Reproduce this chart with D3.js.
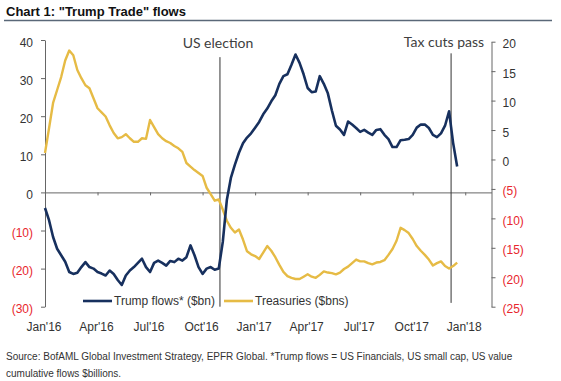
<!DOCTYPE html>
<html>
<head>
<meta charset="utf-8">
<script src="https://cdn.jsdelivr.net/npm/d3@7"></script>
<style>
body { margin: 0; background: #fff; }
svg { display: block; }
.narrow { font-family: "Liberation Sans Narrow", "Arial Narrow", "Liberation Sans", sans-serif; }
</style>
</head>
<body>
<div id="chart"></div>
<script>
// weekly readings, week 0 = first week of Jan 2016
var trumpFlows = [-4.1, -7.3, -11.7, -14.8, -16.5, -18.2, -20.9, -21.4, -21.1, -19.6,
  -18.3, -19.6, -20, -20.9, -21.3, -21.8, -20.5, -21.4, -23, -24.3,
  -21.8, -20.5, -19.6, -18.5, -17.4, -19.6, -20.9, -18.5, -17.9, -18.5,
  -19.2, -18, -18.3, -17.4, -17.9, -17, -13.9, -16.5, -19.6, -21.4,
  -20, -19.6, -20.3, -20, -13, -2, 3.8, 7.3, 10.4, 12.9,
  14.4, 15.5, 17, 18.5, 20.5, 22, 23.9, 25.5, 28.5, 30.5,
  31, 33.5, 36.2, 34, 31, 27.4, 26.3, 26.5, 30.5, 28.5,
  26, 21.5, 17.5, 16.5, 15.1, 18.6, 17.8, 16.9, 15.9, 16.4,
  15.7, 15.1, 16.4, 16.6, 15.1, 14, 11.9, 11.9, 13.7, 13.8,
  14, 15.1, 17, 17.8, 17.8, 16.9, 15.1, 14.5, 15.5, 17.5,
  21.3, 13, 6.8];
var treasuries = [1.1, 5.3, 9.6, 11.8, 14, 16.8, 18.5, 17.7, 15.2, 13.8,
  12.6, 12.1, 10.4, 8.7, 8, 7.3, 5.8, 4.5, 3.6, 3.8,
  4.3, 3.6, 3, 3, 3.6, 3.5, 6.7, 5.5, 4.3, 3.6,
  3.1, 2.8, 2.3, 1.9, 1.3, -0.6, -1.2, -1.8, -2.3, -2.8,
  -4.8, -5.9, -7, -6.8, -8.5, -10.4, -11.6, -12.4, -11.9, -13.6,
  -15.6, -16.1, -16.4, -16.9, -15.8, -14.7, -15.5, -16.6, -17.9, -19.1,
  -19.8, -20.1, -20.3, -20.3, -19.9, -19.5, -19.9, -20.1, -19.6, -19,
  -19.2, -19.3, -19.5, -19.2, -18.6, -18.2, -17.6, -17, -17.3, -17.3,
  -17.6, -17.8, -17.5, -17.4, -17.1, -16.2, -15.2, -13.8, -11.6, -12,
  -12.5, -13.5, -14.7, -15.5, -16.2, -17, -18, -17.6, -17.3, -18.1,
  -18.5, -18.1, -17.5];
var tickLabels = ["Jan'16", "Apr'16", "Jul'16", "Oct'16", "Jan'17", "Apr'17", "Jul'17", "Oct'17", "Jan'18"];
var tickWeeks = [0, 13, 26, 39, 52, 65, 78, 91, 104];
var leftTicks = [40, 30, 20, 10, 0, -10, -20, -30];
var rightTicks = [20, 15, 10, 5, 0, -5, -10, -15, -20, -25];
var eventLabels = ["US election", "Tax cuts pass"];
var eventWeeks = [43.3, 100.5];
var seriesNames = ["Trump flows* ($bn)", "Treasuries ($bns)"];

var blue = "#17305e", gold = "#e6bb45", red = "#e8262d", ink = "#333";

var svg = d3.select("#chart").append("svg")
  .attr("width", 561)
  .attr("height", 381);

var x = d3.scaleLinear().domain([0, 110.5]).range([45, 491.5]);
var yL = d3.scaleLinear().domain([-30, 40]).range([306.7, 40]);
var yR = d3.scaleLinear().domain([-25, 20]).range([306.7, 41.7]);

function fmt(d) { return d < 0 ? "(" + Math.abs(d) + ")" : d; }

// title
svg.append("text")
  .attr("class", "narrow")
  .attr("x", 6).attr("y", 16)
  .style("font-size", "13px").style("font-weight", "bold")
  .attr("fill", "#111")
  .text('Chart 1: "Trump Trade" flows');
svg.append("line")
  .attr("x1", 4).attr("x2", 552).attr("y1", 20.5).attr("y2", 20.5)
  .attr("stroke", "#5a6878").attr("stroke-width", 1.3);

// axes
var gl = svg.append("g")
  .attr("class", "narrow")
  .attr("transform", "translate(45,0)")
  .call(d3.axisLeft(yL).tickValues(leftTicks).tickFormat(fmt).tickSize(4).tickSizeOuter(0).tickPadding(8));
var gr = svg.append("g")
  .attr("class", "narrow")
  .attr("transform", "translate(491.5,0)")
  .call(d3.axisRight(yR).tickValues(rightTicks).tickFormat(fmt).tickSize(4).tickSizeOuter(0).tickPadding(7));
[gl, gr].forEach(function (g) {
  g.selectAll("path, line").attr("stroke", "#666");
  g.selectAll("text")
    .style("font-size", "12px")
    .attr("dy", "0.5em")
    .attr("fill", function (d) { return d < 0 ? red : ink; });
});

var gz = svg.append("g")
  .attr("transform", "translate(0," + yL(0) + ")")
  .call(d3.axisBottom(x).tickValues(tickWeeks).tickFormat("").tickSize(3).tickSizeOuter(0));
gz.selectAll("path, line").attr("stroke", "#666");

svg.append("g").selectAll("text")
  .data(tickLabels)
  .enter().append("text")
  .attr("class", "narrow")
  .attr("x", function (d, i) { return x(tickWeeks[i]) - 1; })
  .attr("y", 331)
  .attr("text-anchor", "middle")
  .style("font-size", "12px")
  .attr("fill", ink)
  .text(function (d) { return d; });

// event markers
var evTop = [35.5, 36.5], evBottom = [-30, -29];
eventWeeks.forEach(function (w, i) {
  svg.append("line")
    .attr("x1", x(w)).attr("x2", x(w))
    .attr("y1", yL(evTop[i])).attr("y2", yL(evBottom[i]))
    .attr("stroke", "#333").attr("stroke-width", 1);
});
svg.append("text")
  .attr("x", x(eventWeeks[0]) - 2).attr("y", 48)
  .attr("text-anchor", "middle")
  .style("font-family", "Lato, sans-serif").style("font-size", "14px")
  .attr("fill", "#404040")
  .text(eventLabels[0]);
svg.append("text")
  .attr("x", x(eventWeeks[1]) + 33).attr("y", 47)
  .attr("text-anchor", "end")
  .style("font-family", "Lato, sans-serif").style("font-size", "14px")
  .attr("fill", "#404040")
  .text(eventLabels[1]);

// series
var lineL = d3.line().x(function (d, i) { return x(i); }).y(function (d) { return yL(d); });
var lineR = d3.line().x(function (d, i) { return x(i); }).y(function (d) { return yR(d); });

svg.append("path")
  .datum(treasuries)
  .attr("d", lineR)
  .attr("fill", "none")
  .attr("stroke", gold)
  .attr("stroke-width", 2.4)
  .attr("stroke-linejoin", "round");
svg.append("path")
  .datum(trumpFlows)
  .attr("d", lineL)
  .attr("fill", "none")
  .attr("stroke", blue)
  .attr("stroke-width", 2.6)
  .attr("stroke-linejoin", "round");

// legend
var legX = [83, 224];
var legColors = [blue, gold];
seriesNames.forEach(function (n, i) {
  svg.append("line")
    .attr("x1", legX[i]).attr("x2", legX[i] + 29)
    .attr("y1", 301).attr("y2", 301)
    .attr("stroke", legColors[i]).attr("stroke-width", 2.6);
  svg.append("text")
    .attr("class", "narrow")
    .attr("x", legX[i] + 31).attr("y", 305)
    .style("font-size", "12px")
    .attr("fill", ink)
    .text(n);
});

// source
var source = ["Source: BofAML Global Investment Strategy, EPFR Global. *Trump flows = US Financials, US small cap, US value",
  "cumulative flows $billions."];
svg.append("g").selectAll("text")
  .data(source)
  .enter().append("text")
  .attr("class", "narrow")
  .attr("x", 6)
  .attr("y", function (d, i) { return 360 + i * 16.5; })
  .style("font-size", "10px")
  .attr("fill", ink)
  .text(function (d) { return d; });
</script>
</body>
</html>
